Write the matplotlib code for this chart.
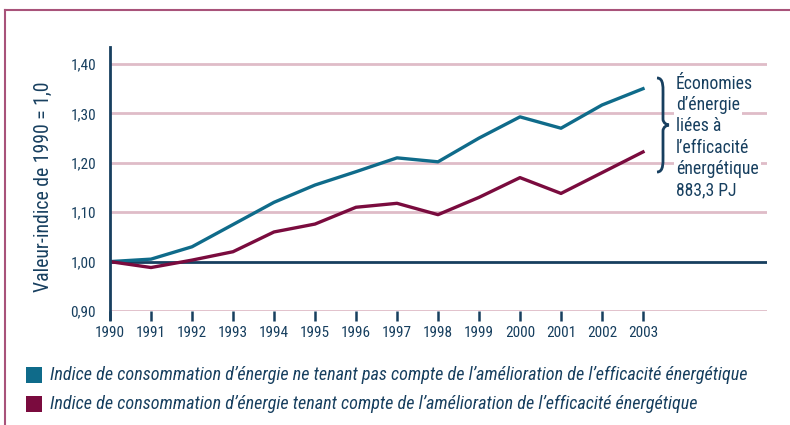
import matplotlib
matplotlib.use("Agg")
import matplotlib.pyplot as plt
from matplotlib import font_manager
from matplotlib.path import Path
from matplotlib.patches import PathPatch, Rectangle
from matplotlib.lines import Line2D

years = [1990, 1991, 1992, 1993, 1994, 1995, 1996, 1997, 1998, 1999, 2000, 2001, 2002, 2003]
sans_amelioration = [1.000, 1.005, 1.030, 1.075, 1.120, 1.155, 1.182, 1.210, 1.202, 1.250, 1.293, 1.270, 1.317, 1.350]
avec_amelioration = [1.000, 0.988, 1.003, 1.020, 1.060, 1.076, 1.110, 1.118, 1.095, 1.130, 1.170, 1.138, 1.180, 1.222]
yticks = [0.90, 1.00, 1.10, 1.20, 1.30, 1.40]
ytick_labels = ["0,90", "1,00", "1,10", "1,20", "1,30", "1,40"]
legend_labels = [
    "Indice de consommation d\u2019énergie ne tenant pas compte de l\u2019amélioration de l\u2019efficacité énergétique",
    "Indice de consommation d\u2019énergie tenant compte de l\u2019amélioration de l\u2019efficacité énergétique",
]
annotation_lines = ["Économies", "d\u2019énergie", "liées à", "l\u2019efficacité", "énergétique", "883,3 PJ"]
ylabel = "Valeur-indice de 1990 = 1,0"

TEAL = "#0f6b8a"
MAROON = "#7a0b3e"
NAVY = "#173f5f"
PINK = "#dfbcc8"
FRAME = "#a8537a"

# pick a condensed family if one is installed
entries = font_manager.fontManager.ttflist
names = {f.name for f in entries}
family = "DejaVu Sans"
stretch = "normal"
for cand in ["Liberation Sans Narrow", "Roboto Condensed", "Open Sans Condensed", "Arial Narrow"]:
    if cand in names:
        family = cand
        break
else:
    for f in entries:
        if f.name in ("DejaVu Sans", "Roboto", "Open Sans", "Noto Sans", "Liberation Sans") and \
                str(f.stretch) in ("condensed", "semi-condensed", "75", "87.5", "600"):
            family = f.name
            stretch = "condensed"
            break
        if f.name == "DejaVu Sans" and "Condensed" in f.fname:
            family = "DejaVu Sans"
            stretch = "condensed"
            break
plt.rcParams["font.family"] = [family, "DejaVu Sans"]
plt.rcParams["font.stretch"] = stretch

W, H = 790, 425
fig = plt.figure(figsize=(W / 100, H / 100), dpi=100)

def fx(px):
    return px / W

def fy(py):
    return 1 - py / H

# frame
fig.add_artist(Line2D([fx(5), 1.0], [fy(10), fy(10)], color=FRAME, lw=1.5, transform=fig.transFigure))
fig.add_artist(Line2D([fx(5), fx(5)], [fy(10), 0.0], color=FRAME, lw=1.5, transform=fig.transFigure))

ax_left, ax_right, ax_top, ax_bottom = 110, 767, 47, 311
ax = fig.add_axes([fx(ax_left), fy(ax_bottom), fx(ax_right - ax_left), (ax_bottom - ax_top) / H])

ppu = (311 - 64) / 0.5
ax.set_ylim(0.90, 1.40 + (64 - 47) / ppu)
ppy = (643 - 110) / 13
ax.set_xlim(1990, 1990 + (767 - 110) / ppy)

for yv in yticks:
    if abs(yv - 1.0) < 1e-9:
        ax.axhline(yv, color=NAVY, lw=2.0, zorder=2)
    else:
        ax.axhline(yv, color=PINK, lw=2.0, zorder=1)

ax.plot(years, sans_amelioration, color=TEAL, lw=2.4, zorder=4)
ax.plot(years, avec_amelioration, color=MAROON, lw=2.4, zorder=4)

for s in ["top", "right", "bottom"]:
    ax.spines[s].set_visible(False)
ax.spines["left"].set_color(NAVY)
ax.spines["left"].set_linewidth(2.0)
ax.spines["left"].set_bounds(0.90 - 8 / ppu, ax.get_ylim()[1])
ax.spines["left"].set_zorder(5)

ax.set_yticks(yticks)
ax.set_yticklabels(ytick_labels)
ax.tick_params(axis="y", length=0, pad=10, labelsize=12, labelcolor=NAVY)
ax.set_xticks(years)
ax.set_xticklabels([str(y) for y in years])
ax.tick_params(axis="x", length=7, width=1.8, color=NAVY, pad=4, labelsize=12, labelcolor=NAVY, direction="out")
ylab = fig.text(fx(43), fy(187), ylabel, fontsize=13, color=NAVY, rotation=90, ha="center", va="center")
ax.patch.set_alpha(0)

# brace
bx0, bx1 = 657, 669
by0, by1 = 78, 172
bm = (by0 + by1) / 2
verts = [
    (fx(bx0), fy(by0)),
    (fx(bx0 + 7), fy(by0)), (fx(bx0 + 6), fy(by0 + 10)), (fx(bx0 + 6), fy(by0 + 20)),
    (fx(bx0 + 6), fy(bm - 6)),
    (fx(bx0 + 6), fy(bm - 2)), (fx(bx1 - 2), fy(bm)), (fx(bx1), fy(bm)),
    (fx(bx1 - 2), fy(bm)), (fx(bx0 + 6), fy(bm + 2)), (fx(bx0 + 6), fy(bm + 6)),
    (fx(bx0 + 6), fy(by1 - 20)),
    (fx(bx0 + 6), fy(by1 - 10)), (fx(bx0 + 7), fy(by1)), (fx(bx0), fy(by1)),
]
codes = [Path.MOVETO,
         Path.CURVE4, Path.CURVE4, Path.CURVE4,
         Path.LINETO,
         Path.CURVE4, Path.CURVE4, Path.CURVE4,
         Path.CURVE4, Path.CURVE4, Path.CURVE4,
         Path.LINETO,
         Path.CURVE4, Path.CURVE4, Path.CURVE4]
fig.add_artist(PathPatch(Path(verts, codes), facecolor="none", edgecolor=NAVY, lw=2.0,
                         transform=fig.transFigure, zorder=6))

line_y0 = 84
line_dy = 21.2
ann_texts = []
for i, t in enumerate(annotation_lines):
    ann_texts.append(fig.text(fx(676), fy(line_y0 + i * line_dy), t, fontsize=12.5, color=NAVY,
                              ha="left", va="center",
                              bbox=dict(facecolor="white", edgecolor="none", pad=1.5), zorder=7))

# legend
leg_colors = [TEAL, MAROON]
leg_y = [375, 404]
leg_texts = []
for c, lab, yy in zip(leg_colors, legend_labels, leg_y):
    fig.add_artist(Rectangle((fx(26), fy(yy + 8)), fx(16), 16 / H, facecolor=c, edgecolor="none",
                             transform=fig.transFigure))
    leg_texts.append(fig.text(fx(50), fy(yy), lab, fontsize=12.3, style="italic", color=NAVY,
                              ha="left", va="center"))

# fit text widths to the reference's measured widths (condensed face in the original)
fig.canvas.draw()
r = fig.canvas.get_renderer()

def fit(texts, ref_text, target_px, maxsize):
    w = ref_text.get_window_extent(r).width
    size = min(maxsize, ref_text.get_fontsize() * target_px / w)
    for t in texts:
        t.set_fontsize(size)
    return size

fit(leg_texts, leg_texts[0], 698, 15)
fit(ann_texts, ann_texts[4], 83, 14)
xl = ax.get_xticklabels()
s = fit([], xl[0], 30, 14)
ax.tick_params(axis="both", labelsize=s)
w = ylab.get_window_extent(r).height
ylab.set_fontsize(min(15, ylab.get_fontsize() * 210 / w))

fig.savefig("out.png", dpi=100, facecolor="white")
